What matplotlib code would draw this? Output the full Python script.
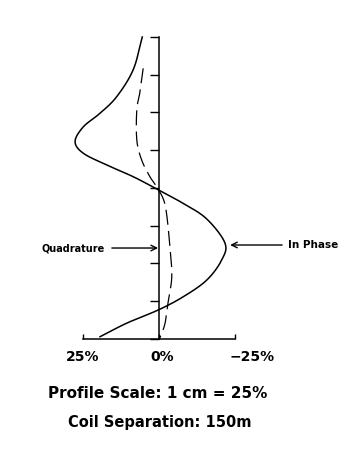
import numpy as np
import matplotlib
matplotlib.use('Agg')
import matplotlib.pyplot as plt
import matplotlib.transforms as mtransforms

# Profile response vs. station (stations 0..8, bottom to top), values in percent
in_phase_pct = [5.5, 8.5, 13.9, 19.4, 24.9, 27.6, 24.9, 17.2, 8.5, 0.2,
                -8.0, -15.7, -21.7, -20.6, -15.7, -8.0, 0.2, 10.6, 19.4]
in_phase_pos = [8.0, 7.13, 6.42, 5.98, 5.62, 5.23, 4.92, 4.61, 4.30, 3.95,
                3.59, 3.18, 2.54, 2.09, 1.56, 1.12, 0.77, 0.42, 0.06]

quad_pct = [5.2, 6.25, 7.3, 7.3, 5.7, 3.0, 0.8, -2.0, -3.6, -4.2, -3.1, -2.0, -0.3]
quad_pos = [7.17, 6.55, 6.07, 5.27, 4.74, 4.30, 4.03, 3.55, 2.44, 1.65, 1.03, 0.42, 0.03]

scale_ticks = [25, 0, -25]
scale_labels = ['25%', '0%', '\u221225%']
station_ticks = list(range(9))

arrow_pos = {'Quadrature': 2.41, 'In Phase': 2.49}

plt.rcParams['font.family'] = 'DejaVu Sans'

fig = plt.figure(figsize=(3.56, 4.49), dpi=100)
ax = fig.add_axes([0, 0, 1, 1])
ax.set_xlim(52.3, -64.8)
ax.set_ylim(-2.914, 8.98)
ax.set_facecolor('white')


# Catmull-Rom curve through the read-off points
def catmull_rom(xs, ys, n=20):
    p = np.column_stack([xs, ys])
    p = np.vstack([2 * p[0] - p[1], p, 2 * p[-1] - p[-2]])
    out = []
    t = np.linspace(0, 1, n, endpoint=False)[:, None]
    for i in range(1, len(p) - 2):
        p0, p1, p2, p3 = p[i - 1], p[i], p[i + 1], p[i + 2]
        seg = 0.5 * ((2 * p1) + (-p0 + p2) * t
                     + (2 * p0 - 5 * p1 + 4 * p2 - p3) * t ** 2
                     + (-p0 + 3 * p1 - 3 * p2 + p3) * t ** 3)
        out.append(seg)
    out.append(p[-2][None, :])
    out = np.vstack(out)
    return out[:, 0], out[:, 1]


xi, yi = catmull_rom(in_phase_pct, in_phase_pos)
xq, yq = catmull_rom(quad_pct, quad_pos)
ax.plot(xi, yi, color='black', lw=1.1)
ax.plot(xq, yq, color='black', lw=0.9, dashes=(12, 5))

for side in ['top', 'right']:
    ax.spines[side].set_visible(False)
ax.spines['left'].set_position(('data', 0))
ax.spines['left'].set_bounds(0, 8)
ax.spines['bottom'].set_position(('data', 0))
ax.spines['bottom'].set_bounds(-25, 25)
for side in ['left', 'bottom']:
    ax.spines[side].set_linewidth(1.1)

ax.set_yticks(station_ticks)
ax.set_yticklabels([])
ax.tick_params(axis='y', direction='out', length=6.5, width=1.0)
ax.set_xticks(scale_ticks)
ax.set_xticklabels(scale_labels, fontsize=10, fontweight='bold')
ax.tick_params(axis='x', direction='in', length=3.6, width=1.0, pad=8)
shift = mtransforms.ScaledTranslation(0.17, 0, fig.dpi_scale_trans)
labels = ax.get_xticklabels()
labels[-1].set_transform(labels[-1].get_transform() + shift)
shift0 = mtransforms.ScaledTranslation(0.03, 0, fig.dpi_scale_trans)
labels[1].set_transform(labels[1].get_transform() + shift0)

arrow = dict(arrowstyle='->', color='black', lw=1.0,
             mutation_scale=10, shrinkA=0, shrinkB=0)
ax.annotate('', xy=(0.3, arrow_pos['Quadrature']), xytext=(15.5, arrow_pos['Quadrature']),
            arrowprops=arrow)
ax.text(17.8, arrow_pos['Quadrature'], 'Quadrature', ha='right', va='center',
        fontsize=7, fontweight='bold')
ax.annotate('', xy=(-23.4, arrow_pos['In Phase']), xytext=(-40.5, arrow_pos['In Phase']),
            arrowprops=arrow)
ax.text(-42.4, arrow_pos['In Phase'], 'In Phase', ha='left', va='center',
        fontsize=7.5, fontweight='bold')

fig.text(0.444, 0.1247, 'Profile Scale: 1 cm = 25%', ha='center', va='center',
         fontsize=11, fontweight='bold')
fig.text(0.449, 0.058, 'Coil Separation: 150m', ha='center', va='center',
         fontsize=10.5, fontweight='bold')

fig.savefig('out.png', dpi=100, facecolor='white')
